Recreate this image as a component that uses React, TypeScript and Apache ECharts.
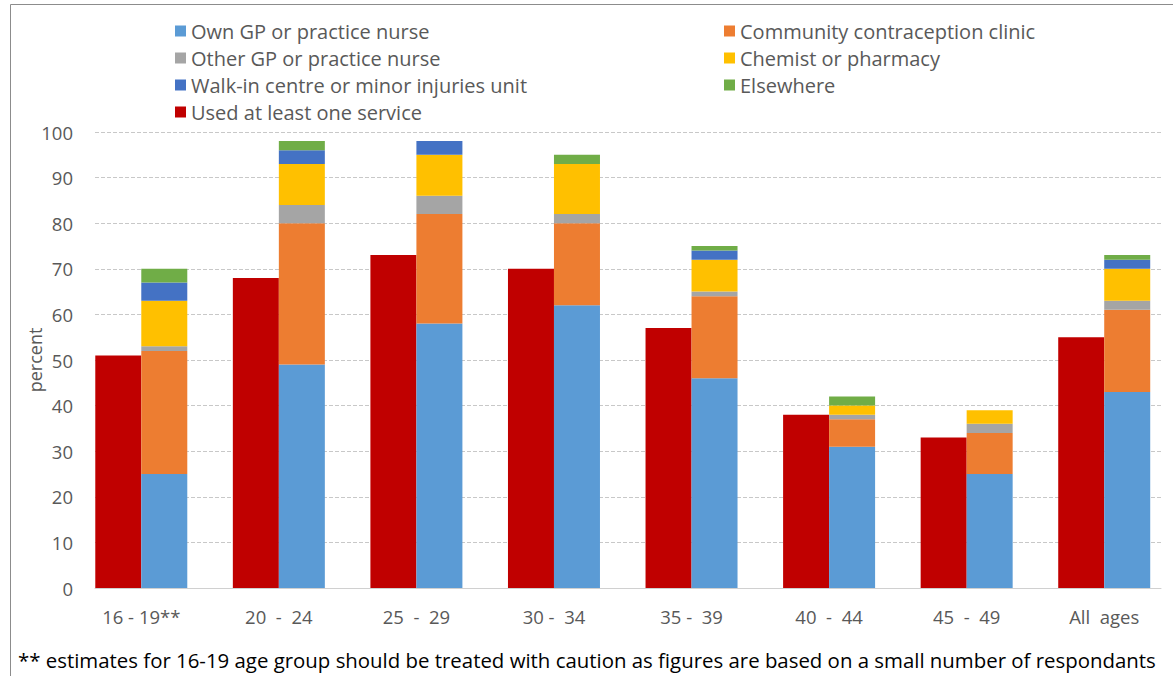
import React, { useEffect, useRef } from "react";
import * as echarts from "echarts";

const categories = ["16 - 19**", "20  -  24", "25  -  29", "30 -  34", "35 -  39", "40  -  44", "45  -  49", "All  ages"];
const usedAtLeastOne = [51, 68, 73, 70, 57, 38, 33, 55];
const ownGP = [25, 49, 58, 62, 46, 31, 25, 43];
const community = [27, 31, 24, 18, 18, 6, 9, 18];
const otherGP = [1, 4, 4, 2, 1, 1, 2, 2];
const chemist = [10, 9, 9, 11, 7, 2, 3, 7];
const walkIn = [4, 3, 3, 0, 2, 0, 0, 2];
const elsewhere = [3, 2, 0, 2, 1, 2, 0, 1];
const yTicks = [0, 10, 20, 30, 40, 50, 60, 70, 80, 90, 100];
const footnote = "** estimates for 16-19 age group should be treated with caution as figures are based on a small number of respondants";

const FONT = "Open Sans";
const GREY = "#595959";

export default function App() {
  const ref = useRef<HTMLDivElement>(null);
  useEffect(() => {
    if (!ref.current) return;
    const chart = echarts.init(ref.current, null, { renderer: "svg" });
    const stackSeries = (name: string, data: number[], color: string) => ({
      name,
      type: "bar",
      stack: "services",
      xAxisIndex: 1,
      yAxisIndex: 1,
      barWidth: 46,
      barGap: "0%",
      data,
      itemStyle: { color },
    });
    const legendText = { color: GREY, fontSize: 20, fontFamily: FONT, lineHeight: 18 };
    chart.setOption({
      animation: false,
      textStyle: { fontFamily: FONT },
      graphic: [
        {
          type: "rect",
          shape: { x: 10.5, y: 4.5, width: 1180, height: 700 },
          style: { fill: "none", stroke: "#8c8c8c", lineWidth: 1 },
          silent: true,
        },
        {
          type: "text",
          x: 35,
          y: 360,
          rotation: Math.PI / 2,
          style: { text: "percent", fill: GREY, font: `18px "${FONT}"`, align: "center", verticalAlign: "middle" },
        },
        {
          type: "text",
          x: 18,
          y: 660,
          style: { text: footnote, fill: "#000", font: `20.4px "${FONT}"`, align: "left", verticalAlign: "middle" },
        },
      ],
      legend: [
        {
          left: 170,
          top: 16,
          orient: "vertical",
          itemWidth: 11,
          itemHeight: 11,
          itemGap: 7,
          icon: "rect",
          textStyle: legendText,
          data: ["Own GP or practice nurse", "Other GP or practice nurse", "Walk-in centre or minor injuries unit", "Used at least one service"],
        },
        {
          left: 719,
          top: 16,
          orient: "vertical",
          itemWidth: 11,
          itemHeight: 11,
          itemGap: 7,
          icon: "rect",
          textStyle: legendText,
          data: ["Community contraception clinic", "Chemist or pharmacy", "Elsewhere"],
        },
      ],
      grid: [
        { left: 95, right: 12, top: 132, bottom: 88 },
        { left: 72.5, width: 1112, top: 132, bottom: 88 },
      ],
      xAxis: [
        {
          gridIndex: 0,
          type: "category",
          data: categories,
          axisLine: { show: true, lineStyle: { color: "#d0d0d0", width: 1 } },
          axisTick: { show: false },
          axisLabel: { show: false },
        },
        {
          gridIndex: 1,
          type: "category",
          data: categories,
          axisLine: { show: false },
          axisTick: { show: false },
          axisLabel: { color: GREY, fontSize: 18.5, fontFamily: FONT, margin: 19 },
        },
      ],
      yAxis: [
        {
          gridIndex: 0,
          type: "value",
          min: yTicks[0],
          max: yTicks[yTicks.length - 1],
          interval: 10,
          axisLine: { show: false },
          axisTick: { show: false },
          axisLabel: { color: GREY, fontSize: 18.5, fontFamily: FONT, margin: 22 },
          splitLine: { show: true, lineStyle: { color: "#c8c8c8", type: [4, 2], width: 1 } },
        },
        {
          gridIndex: 1,
          type: "value",
          min: 0,
          max: 100,
          interval: 10,
          show: false,
          splitLine: { show: false },
        },
      ],
      series: [
        {
          name: "Used at least one service",
          type: "bar",
          xAxisIndex: 1,
          yAxisIndex: 1,
          barWidth: 46,
          barGap: "0%",
          data: usedAtLeastOne,
          itemStyle: { color: "#C00000" },
        },
        stackSeries("Own GP or practice nurse", ownGP, "#5B9BD5"),
        stackSeries("Community contraception clinic", community, "#ED7D31"),
        stackSeries("Other GP or practice nurse", otherGP, "#A5A5A5"),
        stackSeries("Chemist or pharmacy", chemist, "#FFC000"),
        stackSeries("Walk-in centre or minor injuries unit", walkIn, "#4472C4"),
        stackSeries("Elsewhere", elsewhere, "#70AD47"),
      ],
    });
    return () => chart.dispose();
  }, []);
  return (
    <div
      ref={ref}
      style={{ position: "fixed", left: 0, top: 0, width: 1173, height: 676, background: "#fff" }}
    />
  );
}
